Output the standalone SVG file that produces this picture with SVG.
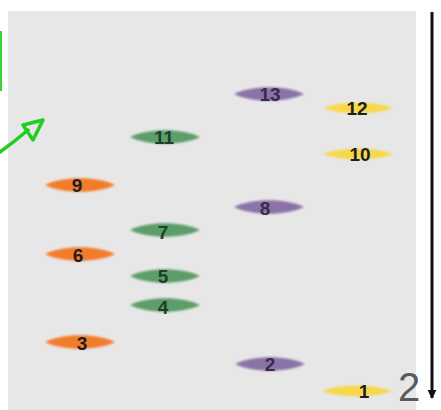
<svg xmlns="http://www.w3.org/2000/svg" width="441" height="410" viewBox="0 0 441 410">
<defs>
  <filter id="blur" x="-20%" y="-100%" width="140%" height="300%"><feGaussianBlur stdDeviation="0.8"/></filter>
  <path id="lens" d="M-35,0 C-18,-9 18,-9 35,0 C18,9 -18,9 -35,0 Z"/>
  <path id="lensS" d="M-35,0 C-18,-7 18,-7 35,0 C18,7 -18,7 -35,0 Z"/>
  <marker id="down" viewBox="0 0 10 10" refX="9" refY="5" markerWidth="3" markerHeight="3.5" orient="auto" markerUnits="strokeWidth">
    <path d="M0,0 L10,5 L0,10 Z" fill="#111"/>
  </marker>
</defs>
<style>
  .band { filter: url(#blur); }
  .orange { fill: #f27b2b; }
  .green { fill: #5c9d6a; }
  .purple { fill: #8b73a7; }
  .yellow { fill: #f8d84c; }
  .lbl { font-family: "Liberation Sans", Arial, sans-serif; font-size: 19px; font-weight: bold; text-anchor: middle; fill: #1e1e1e; }
  .lg { fill: #1f3f26; }
  .lp { fill: #3a2a4e; }
</style>
<rect x="0" y="0" width="441" height="410" fill="#ffffff"/>
<rect id="panel" x="8" y="11" width="408" height="399" fill="#e7e7e7"/>
<line x1="1" y1="31" x2="1" y2="91" stroke="#3ad23a" stroke-width="2"/>
<text x="398" y="401" font-family="Liberation Sans, Arial, sans-serif" font-size="40" fill="#5a5a5a">2</text>
<g id="connectors">
  <path d="M0,152 Q14,142 28,130" fill="none" stroke="#22cc22" stroke-width="3.5" stroke-linecap="round"/>
  <path d="M23,125 L43,120 L33,140 Z" fill="none" stroke="#22cc22" stroke-width="3.5" stroke-linejoin="round"/>
  <line x1="432" y1="12" x2="432" y2="398" stroke="#111" stroke-width="3" marker-end="url(#down)"/>
</g>
<g id="b13"><use href="#lens" class="band purple" x="269" y="94"/><text class="lbl lp" x="270" y="101">13</text></g>
<g id="b12"><use href="#lensS" class="band yellow" x="358" y="108"/><text class="lbl" x="357" y="115">12</text></g>
<g id="b10"><use href="#lensS" class="band yellow" x="358" y="154"/><text class="lbl" x="360" y="161">10</text></g>
<g id="b11"><use href="#lens" class="band green" x="165" y="137"/><text class="lbl lg" x="164" y="144">11</text></g>
<g id="b9"><use href="#lens" class="band orange" x="80" y="185"/><text class="lbl" x="77" y="192">9</text></g>
<g id="b8"><use href="#lens" class="band purple" x="269" y="207"/><text class="lbl lp" x="265" y="215">8</text></g>
<g id="b7"><use href="#lens" class="band green" x="165" y="230"/><text class="lbl lg" x="163" y="239">7</text></g>
<g id="b6"><use href="#lens" class="band orange" x="80" y="254"/><text class="lbl" x="78" y="262">6</text></g>
<g id="b5"><use href="#lens" class="band green" x="165" y="276"/><text class="lbl lg" x="163" y="283">5</text></g>
<g id="b4"><use href="#lens" class="band green" x="165" y="305"/><text class="lbl lg" x="163" y="314">4</text></g>
<g id="b3"><use href="#lens" class="band orange" x="80" y="342"/><text class="lbl" x="82" y="350">3</text></g>
<g id="b2"><use href="#lens" class="band purple" x="270" y="364"/><text class="lbl lp" x="270" y="371">2</text></g>
<g id="b1"><use href="#lensS" class="band yellow" x="357" y="391"/><text class="lbl" x="364" y="398">1</text></g>
</svg>
